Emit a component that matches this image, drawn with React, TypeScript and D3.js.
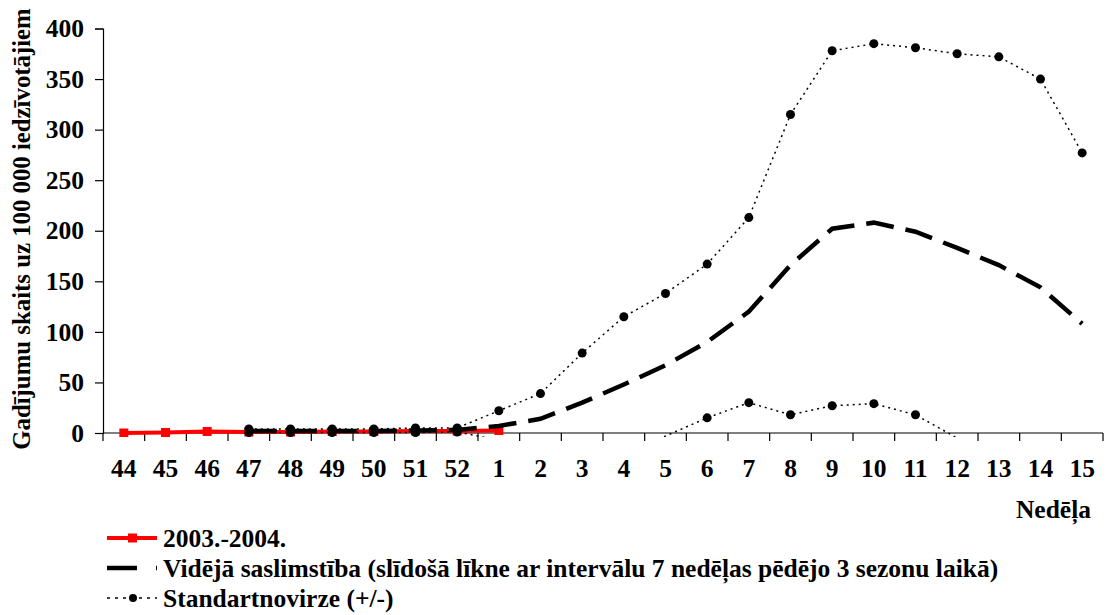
import React, { useEffect, useRef } from "react";
import * as d3 from "d3";

// week labels on the x axis (season 2003/2004)
const weeks = ["44", "45", "46", "47", "48", "49", "50", "51", "52", "1", "2", "3", "4", "5", "6", "7", "8", "9", "10", "11", "12", "13", "14", "15"];

// 2003.-2004. season (red)
const current: (number | null)[] = [0, 0.5, 1.5, 1, 1, 1.5, 1.5, 2, 2, 2.5, null, null, null, null, null, null, null, null, null, null, null, null, null, null];

// moving average of the last 3 seasons (dashed)
const mean: (number | null)[] = [null, null, null, 2, 2, 2, 2, 2.5, 3, 7, 14, 30, 48, 67, 90, 120, 166, 202, 208, 199, 183, 166, 144, 108];

// +/- standard deviation (dotted)
const upper: (number | null)[] = [null, null, null, 4, 4, 4, 4, 5, 5, 22, 39, 79, 115, 138, 167, 213, 315, 378, 385, 381, 375, 372, 350, 277];
const lower: (number | null)[] = [null, null, null, 0.5, 0.5, 0.5, 0.5, 0.5, 1, -7, -10, -19, -19, -3, 15, 30, 18, 27, 29, 18, -5, -36, -60, -61];

const yTicks = [0, 50, 100, 150, 200, 250, 300, 350, 400];

const FONT = "Liberation Serif";
const FS = "25.5px";

type Pt = { i: number; v: number | null };

export default function App() {
  const svgRef = useRef<SVGSVGElement>(null);

  useEffect(() => {
    if (!svgRef.current) return;
    const svg = d3.select(svgRef.current);
    svg.selectAll("*").remove();

    const margin = { top: 28.5, right: 6, bottom: 182, left: 103 };
    const width = 1109;
    const height = 615;
    const innerWidth = width - margin.left - margin.right;
    const innerHeight = height - margin.top - margin.bottom;

    const g = svg.append("g").attr("transform", `translate(${margin.left},${margin.top})`);

    const x = d3.scaleBand<string>().domain(weeks).range([0, innerWidth]).padding(0);
    const y = d3.scaleLinear().domain([0, 400]).range([innerHeight, 0]);
    const cx = (i: number) => (x(weeks[i]) ?? 0) + x.bandwidth() / 2;

    // clip a bit below the axis, like the original
    svg.append("defs")
      .append("clipPath")
      .attr("id", "plot-clip")
      .append("rect")
      .attr("x", 0)
      .attr("y", -2)
      .attr("width", innerWidth)
      .attr("height", innerHeight + 6);

    // axes
    const yAxis = g.append("g").call(
      d3.axisLeft(y).tickValues(yTicks).tickSize(8).tickPadding(11)
    );
    yAxis.attr("font-family", FONT).attr("font-size", FS).attr("font-weight", "bold");
    yAxis.selectAll("text").attr("fill", "#000");
    yAxis.selectAll("line, path").attr("stroke", "#000").attr("stroke-width", 1.2);

    const bounds = d3.range(weeks.length + 1).map((i) => i * x.step());
    const xAxis = g.append("g").attr("transform", `translate(0,${innerHeight})`);
    xAxis.append("line")
      .attr("x1", 0).attr("x2", innerWidth)
      .attr("stroke", "#000").attr("stroke-width", 1.2);
    xAxis.selectAll("line.tick")
      .data(bounds)
      .join("line")
      .attr("class", "tick")
      .attr("x1", (d) => d).attr("x2", (d) => d)
      .attr("y1", 0).attr("y2", 8)
      .attr("stroke", "#000").attr("stroke-width", 1.2);
    xAxis.selectAll("text")
      .data(weeks)
      .join("text")
      .attr("x", (_, i) => cx(i))
      .attr("y", 44)
      .attr("text-anchor", "middle")
      .attr("font-family", FONT)
      .attr("font-weight", "bold")
      .attr("font-size", FS)
      .text((d) => d);

    // y axis title
    svg.append("text")
      .attr("transform", `translate(30,${229}) rotate(-90)`)
      .attr("text-anchor", "middle")
      .attr("font-family", FONT)
      .attr("font-weight", "bold")
      .attr("font-size", "24.8px")
      .text("Gadījumu skaits uz 100 000 iedzīvotājiem");

    // x axis title
    svg.append("text")
      .attr("x", 1091)
      .attr("y", 518)
      .attr("text-anchor", "end")
      .attr("font-family", FONT)
      .attr("font-weight", "bold")
      .attr("font-size", FS)
      .text("Nedēļa");

    const pts = (arr: (number | null)[]): Pt[] => arr.map((v, i) => ({ i, v }));
    const line = d3
      .line<Pt>()
      .defined((d) => d.v !== null)
      .x((d) => cx(d.i))
      .y((d) => y(d.v as number));

    const plot = g.append("g").attr("clip-path", "url(#plot-clip)");

    // red season
    plot.append("path")
      .datum(pts(current))
      .attr("fill", "none")
      .attr("stroke", "#ff0000")
      .attr("stroke-width", 4)
      .attr("d", line);
    plot.selectAll("rect.cur")
      .data(pts(current).filter((d) => d.v !== null))
      .join("rect")
      .attr("class", "cur")
      .attr("x", (d) => cx(d.i) - 4.5)
      .attr("y", (d) => y(d.v as number) - 4.5)
      .attr("width", 9)
      .attr("height", 9)
      .attr("fill", "#ff0000");

    // moving average
    plot.append("path")
      .datum(pts(mean))
      .attr("fill", "none")
      .attr("stroke", "#000")
      .attr("stroke-width", 4.5)
      .attr("stroke-dasharray", "28,12")
      .attr("d", line);

    // standard deviation lines
    [upper, lower].forEach((arr) => {
      plot.append("path")
        .datum(pts(arr))
        .attr("fill", "none")
        .attr("stroke", "#000")
        .attr("stroke-width", 1.5)
        .attr("stroke-dasharray", "2,4")
        .attr("d", line);
      plot.selectAll(null)
        .data(pts(arr).filter((d) => d.v !== null && (d.v as number) >= 0))
        .join("circle")
        .attr("cx", (d) => cx(d.i))
        .attr("cy", (d) => y(d.v as number))
        .attr("r", 4.5)
        .attr("fill", "#000");
    });

    // legend
    const legend = svg.append("g").attr("transform", "translate(107,0)");
    const rows = [538, 568, 598];

    legend.append("line")
      .attr("x1", 0).attr("x2", 50)
      .attr("y1", rows[0]).attr("y2", rows[0])
      .attr("stroke", "#ff0000").attr("stroke-width", 4);
    legend.append("rect")
      .attr("x", 21).attr("y", rows[0] - 4.5)
      .attr("width", 9).attr("height", 9)
      .attr("fill", "#ff0000");

    legend.append("line")
      .attr("x1", 0).attr("x2", 50)
      .attr("y1", rows[1]).attr("y2", rows[1])
      .attr("stroke", "#000").attr("stroke-width", 4.5)
      .attr("stroke-dasharray", "30,19");

    legend.append("line")
      .attr("x1", 0).attr("x2", 50)
      .attr("y1", rows[2]).attr("y2", rows[2])
      .attr("stroke", "#000").attr("stroke-width", 1.5)
      .attr("stroke-dasharray", "3,5");
    legend.append("circle")
      .attr("cx", 26).attr("cy", rows[2])
      .attr("r", 4)
      .attr("fill", "#000");

    const labels = [
      "2003.-2004.",
      "Vidējā saslimstība (slīdošā līkne ar intervālu 7 nedēļas pēdējo 3 sezonu laikā)",
      "Standartnovirze (+/-)",
    ];
    legend.selectAll("text")
      .data(labels)
      .join("text")
      .attr("x", 56)
      .attr("y", (_, i) => rows[i] + 8.5)
      .attr("font-family", FONT)
      .attr("font-weight", "bold")
      .attr("font-size", FS)
      .text((d) => d);
  }, []);

  return (
    <svg
      ref={svgRef}
      width={1109}
      height={615}
      style={{ display: "block", position: "absolute", left: 0, top: 0, background: "#fff" }}
    />
  );
}
